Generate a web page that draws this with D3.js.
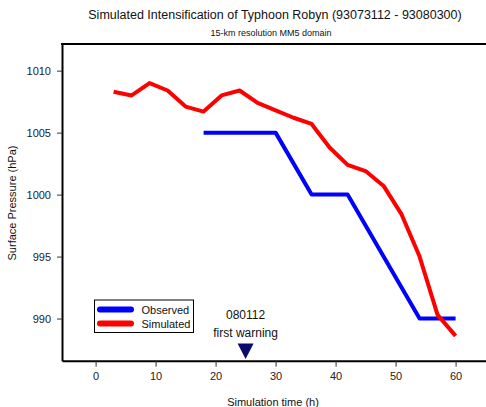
<!DOCTYPE html>
<html>
<head>
<meta charset="utf-8">
<title>Typhoon Robyn</title>
<script src="https://cdn.jsdelivr.net/npm/d3@7"></script>
<style>
  body { margin: 0; background: #fff; }
  text { font-family: "Liberation Sans", Arial, sans-serif; }
</style>
</head>
<body>
<svg width="486" height="407" id="mainsvg"></svg>
<script>
const svg = d3.select('#mainsvg');

// data
const simHours = [3, 6, 9, 12, 15, 18, 21, 24, 27, 30, 33, 36, 39, 42, 45, 48, 51, 54, 57, 60];
const simPressure = [1008.3, 1008.0, 1009.0, 1008.4, 1007.1, 1006.7, 1008.0, 1008.4, 1007.4, 1006.8,
                     1006.2, 1005.7, 1003.8, 1002.4, 1001.9, 1000.7, 998.4, 995.0, 990.3, 988.6];
const obsHours = [18, 30, 36, 42, 54, 60];
const obsPressure = [1005, 1005, 1000, 1000, 990, 990];
const xTicks = [0, 10, 20, 30, 40, 50, 60];
const yTicks = [990, 995, 1000, 1005, 1010];
const warningHour = 25;

const xScale = d3.scaleLinear().domain([-5.6, 65.07]).range([62, 486]);
const yScale = d3.scaleLinear().domain([986.6, 1012.15]).range([360.7, 44]);

// axes
const xAxis = d3.axisBottom(xScale).tickValues(xTicks).tickFormat(d3.format('d'))
  .tickSizeOuter(0).tickSizeInner(6).tickPadding(6);
const yAxis = d3.axisLeft(yScale).tickValues(yTicks).tickFormat(d3.format('d'))
  .tickSizeOuter(0).tickSizeInner(5).tickPadding(6);

const gx = svg.append('g').attr('transform', 'translate(0,360.7)').call(xAxis);
const gy = svg.append('g').attr('transform', 'translate(62,0)').call(yAxis);
[gx, gy].forEach(g => {
  g.select('.domain').attr('stroke', '#000').attr('stroke-width', 2);
  g.selectAll('.tick line').attr('stroke', '#333').attr('stroke-width', 1);
  g.selectAll('.tick text').attr('font-size', 11).attr('fill', '#222')
    .attr('font-family', '"Liberation Sans", Arial, sans-serif');
});

// top frame line
svg.append('line').attr('x1', 61).attr('x2', 486).attr('y1', 44).attr('y2', 44)
  .attr('stroke', '#000').attr('stroke-width', 2);

// lines
const line = d3.line().x(d => xScale(d[0])).y(d => yScale(d[1]));
svg.append('path').datum(obsHours.map((h, i) => [h, obsPressure[i]]))
  .attr('d', line).attr('fill', 'none').attr('stroke', '#0000ff')
  .attr('stroke-width', 4).attr('stroke-linejoin', 'round');
svg.append('path').datum(simHours.map((h, i) => [h, simPressure[i]]))
  .attr('d', line).attr('fill', 'none').attr('stroke', '#ff0000')
  .attr('stroke-width', 4).attr('stroke-linejoin', 'round');

// first warning marker
const wx = xScale(warningHour);
svg.append('path')
  .attr('d', `M${wx - 8},343.5 L${wx + 8},343.5 L${wx},359 Z`)
  .attr('fill', '#0a0a6e');
svg.append('text').attr('x', wx).attr('y', 319).attr('text-anchor', 'middle')
  .attr('font-size', 12).attr('fill', '#111').text('080112');
svg.append('text').attr('x', wx).attr('y', 337).attr('text-anchor', 'middle')
  .attr('font-size', 12).attr('fill', '#111').text('first warning');

// legend
const lg = svg.append('g');
lg.append('rect').attr('x', 94.5).attr('y', 300).attr('width', 99).attr('height', 32.5)
  .attr('fill', '#fff').attr('stroke', '#000').attr('stroke-width', 1);
[['Observed', '#0000ff', 309.5], ['Simulated', '#ff0000', 323.5]].forEach(([name, c, y]) => {
  lg.append('line').attr('x1', 100).attr('x2', 131).attr('y1', y).attr('y2', y)
    .attr('stroke', c).attr('stroke-width', 6).attr('stroke-linecap', 'round');
  lg.append('text').attr('x', 141.5).attr('y', y + 4).attr('font-size', 11)
    .attr('fill', '#111').text(name);
});

// titles
svg.append('text').attr('x', 275).attr('y', 19).attr('text-anchor', 'middle')
  .attr('font-size', 12.5).attr('fill', '#111')
  .text('Simulated Intensification of Typhoon Robyn (93073112 - 93080300)');
svg.append('text').attr('x', 271).attr('y', 36).attr('text-anchor', 'middle')
  .attr('font-size', 9).attr('fill', '#111').text('15-km resolution MM5 domain');
svg.append('text').attr('x', 273).attr('y', 406).attr('text-anchor', 'middle')
  .attr('font-size', 11).attr('fill', '#111').text('Simulation time (h)');
svg.append('text').attr('transform', 'translate(16,203) rotate(-90)').attr('text-anchor', 'middle')
  .attr('font-size', 11).attr('fill', '#111').text('Surface Pressure (hPa)');
</script>
</body>
</html>
